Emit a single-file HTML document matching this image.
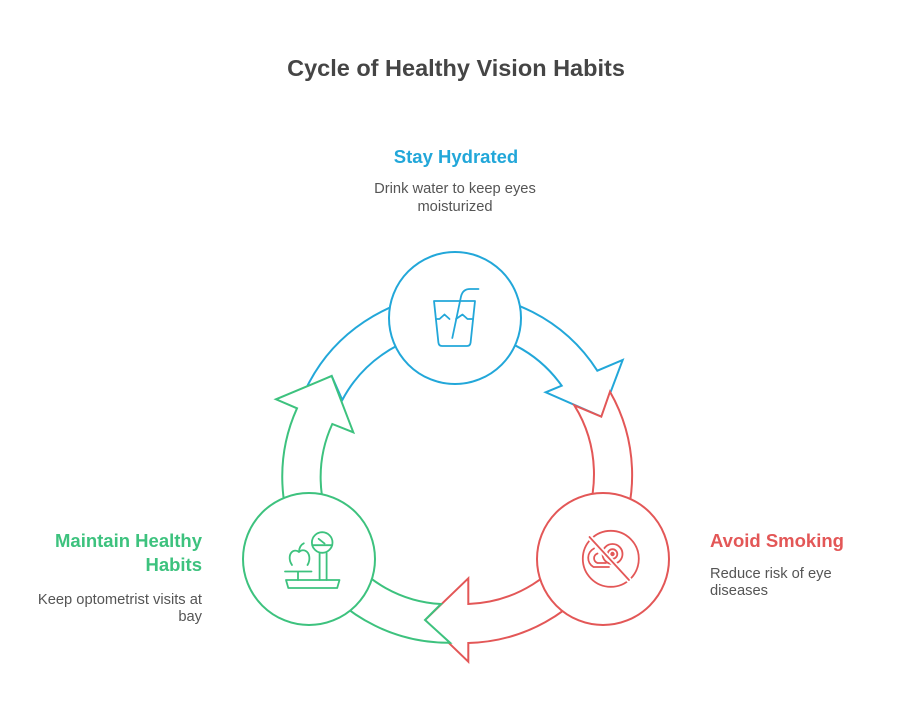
<!DOCTYPE html>
<html>
<head>
<meta charset="utf-8">
<style>
  html, body { margin: 0; padding: 0; background: #ffffff; }
  body { width: 912px; height: 720px; overflow: hidden; }
  svg { display: block; }
  text { font-family: "Liberation Sans", Arial, sans-serif; }
</style>
</head>
<body>
<svg width="912" height="720" viewBox="0 0 912 720" xmlns="http://www.w3.org/2000/svg">
  <rect width="912" height="720" fill="#ffffff"/>

  <!-- Title -->
  <text x="456" y="76" text-anchor="middle" font-size="23.5" font-weight="bold" fill="#454545">Cycle of Healthy Vision Habits</text>

  <!-- Stay Hydrated -->
  <text x="456" y="163" text-anchor="middle" font-size="18.5" font-weight="bold" fill="#22a7d9">Stay Hydrated</text>
  <text x="455" y="193" text-anchor="middle" font-size="14.7" fill="#555555">Drink water to keep eyes</text>
  <text x="455" y="211" text-anchor="middle" font-size="14.7" fill="#555555">moisturized</text>

  <!-- Maintain Healthy Habits -->
  <text x="202" y="547" text-anchor="end" font-size="18.5" font-weight="bold" fill="#3dc27e">Maintain Healthy</text>
  <text x="202" y="571" text-anchor="end" font-size="18.5" font-weight="bold" fill="#3dc27e">Habits</text>
  <text x="202" y="604" text-anchor="end" font-size="14.7" fill="#555555">Keep optometrist visits at</text>
  <text x="202" y="621" text-anchor="end" font-size="14.7" fill="#555555">bay</text>

  <!-- Avoid Smoking -->
  <text x="710" y="547" text-anchor="start" font-size="18.5" font-weight="bold" fill="#e35757">Avoid Smoking</text>
  <text x="710" y="578" text-anchor="start" font-size="14.7" fill="#555555">Reduce risk of eye</text>
  <text x="710" y="595" text-anchor="start" font-size="14.7" fill="#555555">diseases</text>

  <!-- Arrows: blue, red, green (order matters) -->
  <path d="M306.7,387.3 A167,167 0 0 1 597.3,370.7 L622.7,360 L601.3,416.7 L545.7,392.3 L561.7,385.7 A129,129 0 0 0 342.3,400 L331.7,376 Z"
        fill="#ffffff" stroke="#22a7d9" stroke-width="2" stroke-linejoin="miter"/>
  <path d="M610,391.7 A168,168 0 0 1 468.3,643 L468.3,661.7 L425,620 L468.3,578.3 L468.3,604 A130,130 0 0 0 574.3,405.3 L601.3,416.7 Z"
        fill="#ffffff" stroke="#e35757" stroke-width="2" stroke-linejoin="miter"/>
  <path d="M450,642.7 A166,166 0 0 1 297,408.3 L276,399.3 L331.7,376 L353.3,432.3 L332.3,424 A127,127 0 0 0 441,604 L425,620 Z"
        fill="#ffffff" stroke="#3dc27e" stroke-width="2" stroke-linejoin="miter"/>

  <!-- Node circles -->
  <circle cx="455" cy="318" r="66" fill="#ffffff" stroke="#22a7d9" stroke-width="2"/>
  <circle cx="309" cy="559" r="66" fill="#ffffff" stroke="#3dc27e" stroke-width="2"/>
  <circle cx="603" cy="559" r="66" fill="#ffffff" stroke="#e35757" stroke-width="2"/>

  <!-- Glass icon -->
  <g fill="none" stroke="#22a7d9" stroke-width="1.8" stroke-linecap="round" stroke-linejoin="round">
    <path d="M434,301 L475,301 L470.6,342.5 Q470.2,346 467,346 L442,346 Q438.8,346 438.4,342.5 Z"/>
    <path d="M452.3,338 L461,296.5 Q462.8,289 470,289 L478.5,289"/>
    <path d="M436,319 L439.5,319 L444.5,314.5 L449.5,319 M456,319 L462.5,314.5 L467.5,319 L473,319"/>
  </g>

  <!-- Scale & apple icon -->
  <g fill="none" stroke="#3dc27e" stroke-width="1.8" stroke-linecap="round" stroke-linejoin="round">
    <circle cx="322.2" cy="542.5" r="10.3"/>
    <path d="M312.2,545.2 L332.2,545.2"/>
    <path d="M318.6,538.8 L324.6,543.6"/>
    <path d="M319.6,553 L319.6,580 M326.6,553 L326.6,580"/>
    <path d="M286,580 L339.5,580 L337.2,588 L288.3,588 Z"/>
    <path d="M285,571.5 L311.5,571.5 M298,571.5 L298,580"/>
    <path d="M292,565 C288.5,560 289,553.5 293,551.2 C295.5,550 297.5,550.8 299,552 C300.5,550.5 303,549.8 305.5,550.8 C310,553 310.5,560 307.5,565"/>
    <path d="M299,551.5 C299.3,547.5 300.8,544.8 303.8,543.3"/>
  </g>

  <!-- No smoking icon -->
  <g fill="none" stroke="#e35757" stroke-width="1.8" stroke-linecap="round" stroke-linejoin="round">
    <circle cx="610.8" cy="558.8" r="28"/>
    <circle cx="612.5" cy="554" r="10"/>
    <circle cx="612.5" cy="554" r="4.8"/>
    <circle cx="612.5" cy="554" r="1.3" fill="#e35757"/>
    <path d="M594,548.5 A10.5,10.5 0 0 0 593.5,567 L609,567"/>
    <path d="M597.5,553.5 A5,5 0 0 0 597.5,563 L606,563"/>
    <path d="M589.5,537 L629,580" stroke="#ffffff" stroke-width="5.5"/>
    <path d="M589.5,537 L629,580"/>
  </g>
</svg>
</body>
</html>
